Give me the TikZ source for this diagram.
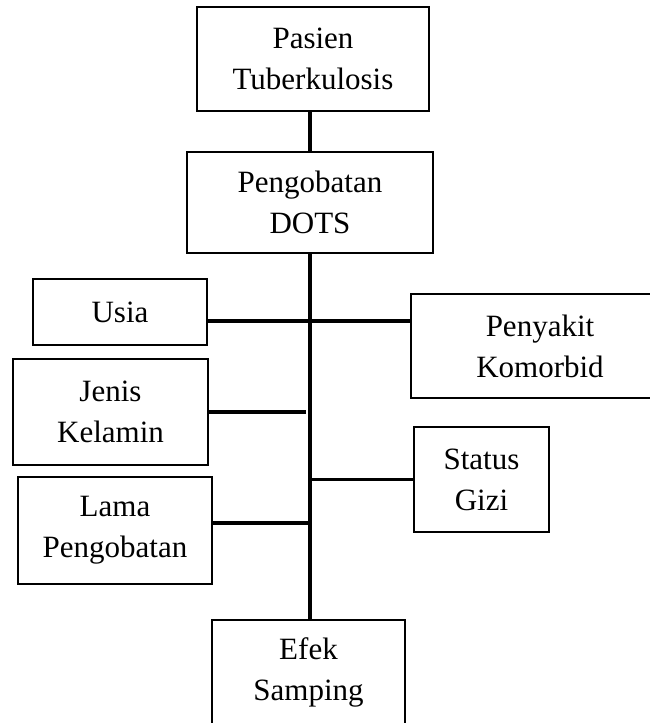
\documentclass[tikz,border=0pt]{standalone}
\usepackage{fontspec}
\setmainfont{Liberation Serif}
\usetikzlibrary{positioning}

\begin{document}
\begin{tikzpicture}[
    x=1pt, y=-1pt,
    box/.style ={draw, line width=1.6pt, inner sep=0pt, align=center,
                 font=\fontsize{31}{41}\selectfont},
    link/.style={line width=3.5pt}
  ]
  \useasboundingbox (0,0) rectangle (649,723);
  \node[box, minimum width=232pt, minimum height=104pt] (pasien)   at (313,59)    {Pasien\\Tuberkulosis};
  \node[box, minimum width=246pt, minimum height=101pt] (dots)     at (310,202.5) {Pengobatan\\DOTS};
  \node[box, minimum width=174pt, minimum height=66pt]  (usia)     at (120,312)   {Usia};
  \node[box, minimum width=258pt, minimum height=104pt] (penyakit) at (540,346)   {Penyakit\\Komorbid};
  \node[box, minimum width=195pt, minimum height=106pt] (jenis)    at (110.5,412) {Jenis\\Kelamin};
  \node[box, minimum width=135pt, minimum height=105pt] (status)   at (481.5,479.5) {Status\\Gizi};
  \node[box, minimum width=194pt, minimum height=107pt] (lama)     at (115,530.5) {Lama\\Pengobatan};
  \node[box, minimum width=193pt, minimum height=104pt] (efek)     at (308.5,672) {Efek\\Samping};
  \coordinate (usiaj)  at (310,321);
  \coordinate (jenisj) at (306,412);
  \coordinate (lamaj)  at (310,523);
  \draw[link] (dots.north) -- (dots.north |- pasien.south);
  \draw[link] (dots.south) -- (dots.south |- efek.north);
  \draw[link] (usia.east |- usiaj) -- (penyakit.west |- usiaj);
  \draw[link] (jenis.east) -- (jenisj);
  \draw[link] (status.west) -- (status.west -| dots.south);
  \draw[link] (lama.east |- lamaj) -- (lamaj);
\end{tikzpicture}
\end{document}
